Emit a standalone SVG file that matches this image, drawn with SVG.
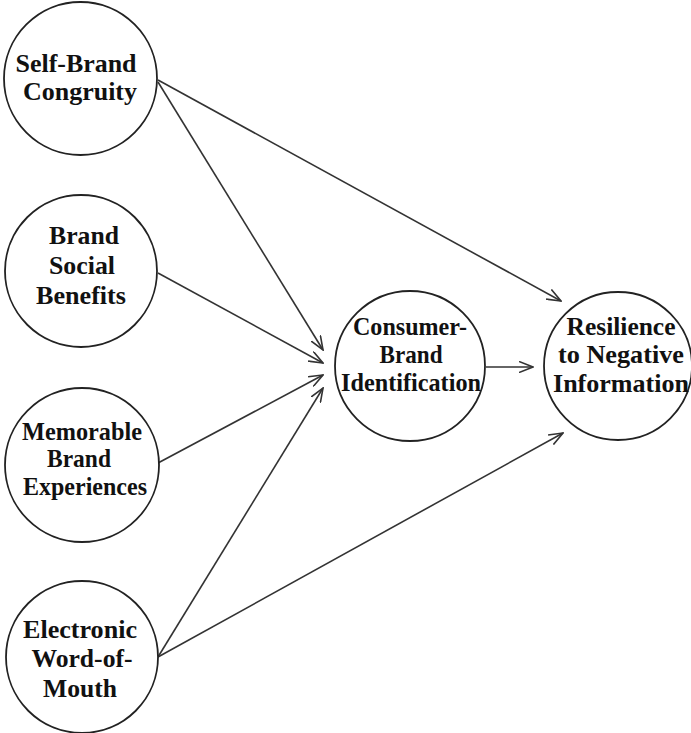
<svg xmlns="http://www.w3.org/2000/svg" width="691" height="733" viewBox="0 0 691 733">
<style>
.n{fill:#fff;stroke:#222;stroke-width:1.8}
.t{font-family:"Liberation Serif","Times New Roman",serif;font-weight:bold;font-size:26px;fill:#111;text-anchor:middle}
.c line{stroke:#333;stroke-width:1.6;fill:none}
</style>
<defs>
<marker id="a" viewBox="0 0 15 12" refX="14" refY="6" markerWidth="15" markerHeight="12" markerUnits="userSpaceOnUse" orient="auto">
<path d="M0,0.5 L14,6 L0,11.5" fill="none" stroke="#333" stroke-width="1.6"/>
</marker>
</defs>
<rect width="691" height="733" fill="#fff"/>
<g class="c">
<line x1="158" y1="80" x2="561" y2="301" marker-end="url(#a)"/>
<line x1="158" y1="82" x2="323" y2="350" marker-end="url(#a)"/>
<line x1="158" y1="273" x2="323" y2="363" marker-end="url(#a)"/>
<line x1="158" y1="463" x2="323" y2="375" marker-end="url(#a)"/>
<line x1="158" y1="657" x2="323" y2="388" marker-end="url(#a)"/>
<line x1="158" y1="657" x2="563" y2="433" marker-end="url(#a)"/>
<line x1="486" y1="367" x2="533" y2="367" marker-end="url(#a)"/>
</g>
<g id="sbc"><circle class="n" cx="80.5" cy="78.5" r="76.5"/><text class="t" x="76" y="72" textLength="121" lengthAdjust="spacingAndGlyphs">Self-Brand</text><text class="t" x="80" y="100" textLength="114" lengthAdjust="spacingAndGlyphs">Congruity</text></g>
<g id="bsb"><circle class="n" cx="81" cy="271" r="76"/><text class="t" x="84" y="244" textLength="70" lengthAdjust="spacingAndGlyphs">Brand</text><text class="t" x="82" y="274" textLength="66" lengthAdjust="spacingAndGlyphs">Social</text><text class="t" x="81" y="304" textLength="90" lengthAdjust="spacingAndGlyphs">Benefits</text></g>
<g id="mbe"><circle class="n" cx="82" cy="465" r="77"/><text class="t" x="82" y="440" textLength="120" lengthAdjust="spacingAndGlyphs">Memorable</text><text class="t" x="79" y="467" textLength="64" lengthAdjust="spacingAndGlyphs">Brand</text><text class="t" x="85" y="495" textLength="124" lengthAdjust="spacingAndGlyphs">Experiences</text></g>
<g id="ewom"><circle class="n" cx="82" cy="657" r="76"/><text class="t" x="80" y="638" textLength="114" lengthAdjust="spacingAndGlyphs">Electronic</text><text class="t" x="82" y="667" textLength="101" lengthAdjust="spacingAndGlyphs">Word-of-</text><text class="t" x="80" y="697" textLength="74" lengthAdjust="spacingAndGlyphs">Mouth</text></g>
<g id="cbi"><circle class="n" cx="410" cy="366" r="75"/><text class="t" x="410" y="335" textLength="114" lengthAdjust="spacingAndGlyphs">Consumer-</text><text class="t" x="411" y="363" textLength="63" lengthAdjust="spacingAndGlyphs">Brand</text><text class="t" x="411" y="391" textLength="140" lengthAdjust="spacingAndGlyphs">Identification</text></g>
<g id="rni"><circle class="n" cx="618" cy="366" r="74"/><text class="t" x="621" y="335" textLength="109" lengthAdjust="spacingAndGlyphs">Resilience</text><text class="t" x="621" y="363" textLength="126" lengthAdjust="spacingAndGlyphs">to Negative</text><text class="t" x="621" y="392" textLength="136" lengthAdjust="spacingAndGlyphs">Information</text></g>
</svg>
